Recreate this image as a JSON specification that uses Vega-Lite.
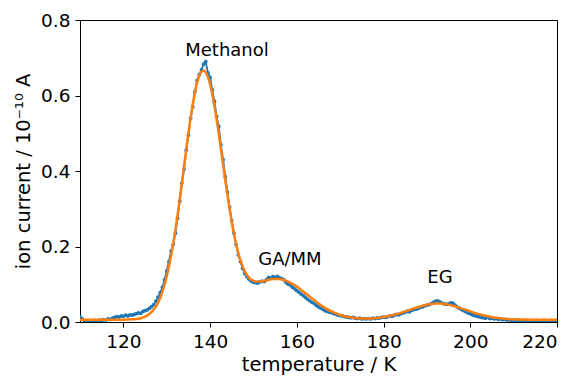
{
  "$schema": "https://vega.github.io/schema/vega-lite/v6.json",
  "width": 477,
  "height": 302,
  "autosize": {"type": "none"},
  "padding": {"left": 80, "top": 20, "right": 20, "bottom": 55},
  "background": "white",
  "config": {
    "font": "DejaVu Sans",
    "view": {"stroke": "#000000", "strokeWidth": 1},
    "axis": {"grid": false, "domainColor": "#000000", "tickColor": "#000000", "labelColor": "#000000", "titleColor": "#000000", "labelFont": "DejaVu Sans", "titleFont": "DejaVu Sans", "labelFontSize": 18.5, "titleFontSize": 19.5, "titleFontWeight": "normal", "tickSize": 5, "labelPadding": 5}
  },
  "datasets": {
    "measured": [
      {"t":110,"i":0.014},{"t":110.5,"i":0.008},{"t":111,"i":0.004},{"t":111.5,"i":0.003},{"t":112,"i":0.002},{"t":112.5,"i":0.003},{"t":113,"i":0.002},{"t":113.5,"i":0.004},{"t":114,"i":0.003},{"t":114.5,"i":0.005},{"t":115,"i":0.004},{"t":115.5,"i":0.006},{"t":116,"i":0.005},{"t":116.5,"i":0.008},{"t":117,"i":0.007},{"t":117.5,"i":0.010},{"t":118,"i":0.012},{"t":118.5,"i":0.014},{"t":119,"i":0.013},{"t":119.5,"i":0.016},{"t":120,"i":0.015},{"t":120.5,"i":0.018},{"t":121,"i":0.016},{"t":121.5,"i":0.019},{"t":122,"i":0.018},{"t":122.5,"i":0.020},{"t":123,"i":0.022},{"t":123.5,"i":0.024},{"t":124,"i":0.023},{"t":124.5,"i":0.028},{"t":125,"i":0.030},{"t":125.5,"i":0.032},{"t":126,"i":0.036},{"t":126.5,"i":0.041},{"t":127,"i":0.046},{"t":127.5,"i":0.055},{"t":128,"i":0.066},{"t":128.5,"i":0.078},{"t":129,"i":0.092},{"t":129.5,"i":0.112},{"t":130,"i":0.135},{"t":130.5,"i":0.160},{"t":131,"i":0.188},{"t":131.5,"i":0.205},{"t":132,"i":0.235},{"t":132.5,"i":0.275},{"t":133,"i":0.320},{"t":133.5,"i":0.368},{"t":134,"i":0.405},{"t":134.5,"i":0.455},{"t":135,"i":0.495},{"t":135.5,"i":0.540},{"t":136,"i":0.570},{"t":136.5,"i":0.610},{"t":137,"i":0.640},{"t":137.5,"i":0.655},{"t":138,"i":0.668},{"t":138.5,"i":0.683},{"t":139,"i":0.690},{"t":139.5,"i":0.660},{"t":140,"i":0.648},{"t":140.5,"i":0.615},{"t":141,"i":0.585},{"t":141.5,"i":0.545},{"t":142,"i":0.518},{"t":142.5,"i":0.470},{"t":143,"i":0.430},{"t":143.5,"i":0.385},{"t":144,"i":0.345},{"t":144.5,"i":0.305},{"t":145,"i":0.268},{"t":145.5,"i":0.235},{"t":146,"i":0.205},{"t":146.5,"i":0.178},{"t":147,"i":0.160},{"t":147.5,"i":0.142},{"t":148,"i":0.128},{"t":148.5,"i":0.120},{"t":149,"i":0.113},{"t":149.5,"i":0.108},{"t":150,"i":0.105},{"t":150.5,"i":0.104},{"t":151,"i":0.103},{"t":151.5,"i":0.106},{"t":152,"i":0.108},{"t":152.5,"i":0.107},{"t":153,"i":0.112},{"t":153.5,"i":0.118},{"t":154,"i":0.116},{"t":154.5,"i":0.120},{"t":155,"i":0.118},{"t":155.5,"i":0.121},{"t":156,"i":0.117},{"t":156.5,"i":0.115},{"t":157,"i":0.112},{"t":157.5,"i":0.105},{"t":158,"i":0.100},{"t":158.5,"i":0.098},{"t":159,"i":0.092},{"t":159.5,"i":0.088},{"t":160,"i":0.083},{"t":160.5,"i":0.079},{"t":161,"i":0.074},{"t":161.5,"i":0.070},{"t":162,"i":0.065},{"t":162.5,"i":0.060},{"t":163,"i":0.056},{"t":163.5,"i":0.052},{"t":164,"i":0.049},{"t":164.5,"i":0.044},{"t":165,"i":0.040},{"t":165.5,"i":0.037},{"t":166,"i":0.034},{"t":166.5,"i":0.030},{"t":167,"i":0.028},{"t":167.5,"i":0.026},{"t":168,"i":0.025},{"t":168.5,"i":0.022},{"t":169,"i":0.021},{"t":169.5,"i":0.018},{"t":170,"i":0.017},{"t":170.5,"i":0.016},{"t":171,"i":0.014},{"t":171.5,"i":0.013},{"t":172,"i":0.012},{"t":172.5,"i":0.011},{"t":173,"i":0.012},{"t":173.5,"i":0.010},{"t":174,"i":0.009},{"t":174.5,"i":0.010},{"t":175,"i":0.008},{"t":175.5,"i":0.009},{"t":176,"i":0.008},{"t":176.5,"i":0.009},{"t":177,"i":0.008},{"t":177.5,"i":0.010},{"t":178,"i":0.009},{"t":178.5,"i":0.011},{"t":179,"i":0.010},{"t":179.5,"i":0.012},{"t":180,"i":0.013},{"t":180.5,"i":0.012},{"t":181,"i":0.014},{"t":181.5,"i":0.016},{"t":182,"i":0.015},{"t":182.5,"i":0.018},{"t":183,"i":0.020},{"t":183.5,"i":0.019},{"t":184,"i":0.022},{"t":184.5,"i":0.024},{"t":185,"i":0.026},{"t":185.5,"i":0.028},{"t":186,"i":0.027},{"t":186.5,"i":0.031},{"t":187,"i":0.033},{"t":187.5,"i":0.034},{"t":188,"i":0.036},{"t":188.5,"i":0.039},{"t":189,"i":0.040},{"t":189.5,"i":0.043},{"t":190,"i":0.045},{"t":190.5,"i":0.046},{"t":191,"i":0.049},{"t":191.5,"i":0.052},{"t":192,"i":0.055},{"t":192.5,"i":0.056},{"t":193,"i":0.053},{"t":193.5,"i":0.050},{"t":194,"i":0.048},{"t":194.5,"i":0.047},{"t":195,"i":0.048},{"t":195.5,"i":0.051},{"t":196,"i":0.050},{"t":196.5,"i":0.045},{"t":197,"i":0.040},{"t":197.5,"i":0.036},{"t":198,"i":0.033},{"t":198.5,"i":0.030},{"t":199,"i":0.027},{"t":199.5,"i":0.024},{"t":200,"i":0.022},{"t":200.5,"i":0.019},{"t":201,"i":0.017},{"t":201.5,"i":0.015},{"t":202,"i":0.014},{"t":202.5,"i":0.012},{"t":203,"i":0.011},{"t":203.5,"i":0.010},{"t":204,"i":0.012},{"t":204.5,"i":0.009},{"t":205,"i":0.010},{"t":205.5,"i":0.008},{"t":206,"i":0.009},{"t":206.5,"i":0.007},{"t":207,"i":0.008},{"t":207.5,"i":0.006},{"t":208,"i":0.007},{"t":208.5,"i":0.005},{"t":209,"i":0.006},{"t":209.5,"i":0.004},{"t":210,"i":0.005},{"t":210.5,"i":0.004},{"t":211,"i":0.005},{"t":211.5,"i":0.003},{"t":212,"i":0.004},{"t":212.5,"i":0.003},{"t":213,"i":0.004},{"t":213.5,"i":0.003},{"t":214,"i":0.004},{"t":214.5,"i":0.003},{"t":215,"i":0.003},{"t":215.5,"i":0.004},{"t":216,"i":0.003},{"t":216.5,"i":0.003},{"t":217,"i":0.004},{"t":217.5,"i":0.003},{"t":218,"i":0.003},{"t":218.5,"i":0.004},{"t":219,"i":0.003},{"t":219.5,"i":0.003},{"t":220,"i":0.004}
    ],
    "fit": [
      {"t":110,"i":0.006},{"t":114,"i":0.006},{"t":118,"i":0.006},{"t":120,"i":0.006},{"t":122,"i":0.007},{"t":123,"i":0.008},{"t":124,"i":0.010},{"t":125,"i":0.014},{"t":126,"i":0.021},{"t":127,"i":0.033},{"t":128,"i":0.051},{"t":129,"i":0.080},{"t":130,"i":0.121},{"t":131,"i":0.175},{"t":132,"i":0.244},{"t":133,"i":0.325},{"t":134,"i":0.413},{"t":135,"i":0.500},{"t":136,"i":0.576},{"t":137,"i":0.634},{"t":138,"i":0.663},{"t":138.5,"i":0.666},{"t":139,"i":0.661},{"t":140,"i":0.630},{"t":141,"i":0.573},{"t":142,"i":0.499},{"t":143,"i":0.417},{"t":144,"i":0.336},{"t":145,"i":0.264},{"t":146,"i":0.206},{"t":147,"i":0.163},{"t":148,"i":0.134},{"t":149,"i":0.117},{"t":150,"i":0.109},{"t":151,"i":0.107},{"t":152,"i":0.108},{"t":153,"i":0.110},{"t":154,"i":0.113},{"t":155,"i":0.114},{"t":156,"i":0.114},{"t":157,"i":0.1115},{"t":158,"i":0.107},{"t":159,"i":0.101},{"t":160,"i":0.094},{"t":161,"i":0.085},{"t":162,"i":0.076},{"t":163,"i":0.067},{"t":164,"i":0.058},{"t":165,"i":0.049},{"t":166,"i":0.041},{"t":167,"i":0.034},{"t":168,"i":0.028},{"t":169,"i":0.0228},{"t":170,"i":0.0187},{"t":171,"i":0.0153},{"t":172,"i":0.013},{"t":173,"i":0.0112},{"t":174,"i":0.0101},{"t":175,"i":0.0093},{"t":176,"i":0.0092},{"t":177,"i":0.0095},{"t":178,"i":0.0102},{"t":179,"i":0.0114},{"t":180,"i":0.0131},{"t":181,"i":0.015},{"t":182,"i":0.0177},{"t":183,"i":0.0208},{"t":184,"i":0.0243},{"t":185,"i":0.0281},{"t":186,"i":0.0321},{"t":187,"i":0.036},{"t":188,"i":0.0398},{"t":189,"i":0.0432},{"t":190,"i":0.046},{"t":191,"i":0.0479},{"t":192,"i":0.0489},{"t":193,"i":0.0489},{"t":194,"i":0.0479},{"t":195,"i":0.046},{"t":196,"i":0.0432},{"t":197,"i":0.0398},{"t":198,"i":0.036},{"t":199,"i":0.0321},{"t":200,"i":0.0281},{"t":201,"i":0.0243},{"t":202,"i":0.0208},{"t":203,"i":0.0177},{"t":204,"i":0.015},{"t":205,"i":0.0128},{"t":206,"i":0.011},{"t":207,"i":0.0096},{"t":208,"i":0.0085},{"t":210,"i":0.0071},{"t":212,"i":0.0065},{"t":215,"i":0.006},{"t":220,"i":0.006}
    ],
    "labels": [
      {"t":143.9,"i":0.718,"label":"Methanol"},
      {"t":158.4,"i":0.164,"label":"GA/MM"},
      {"t":193.0,"i":0.116,"label":"EG"}
    ]
  },
  "encoding": {
    "x": {"field": "t", "type": "quantitative", "scale": {"domain": [110, 220], "nice": false, "zero": false}, "axis": {"title": "temperature / K", "values": [120, 140, 160, 180, 200, 220], "format": "d", "titlePadding": 5}},
    "y": {"field": "i", "type": "quantitative", "scale": {"domain": [0, 0.8], "nice": false}, "axis": {"title": "ion current / 10⁻¹⁰ A", "values": [0, 0.2, 0.4, 0.6, 0.8], "format": ".1f", "titlePadding": 7}}
  },
  "layer": [
    {"data": {"name": "measured"}, "mark": {"type": "line", "color": "#1f77b4", "strokeWidth": 1.8, "clip": true, "point": {"filled": true, "color": "#1f77b4", "size": 14}}},
    {"data": {"name": "fit"}, "mark": {"type": "line", "color": "#ff7f0e", "strokeWidth": 2.5, "interpolate": "monotone", "clip": true}},
    {"data": {"name": "labels"}, "mark": {"type": "text", "font": "DejaVu Sans", "fontSize": 18, "color": "#000000", "align": "center", "baseline": "middle"}, "encoding": {"text": {"field": "label"}}}
  ]
}
